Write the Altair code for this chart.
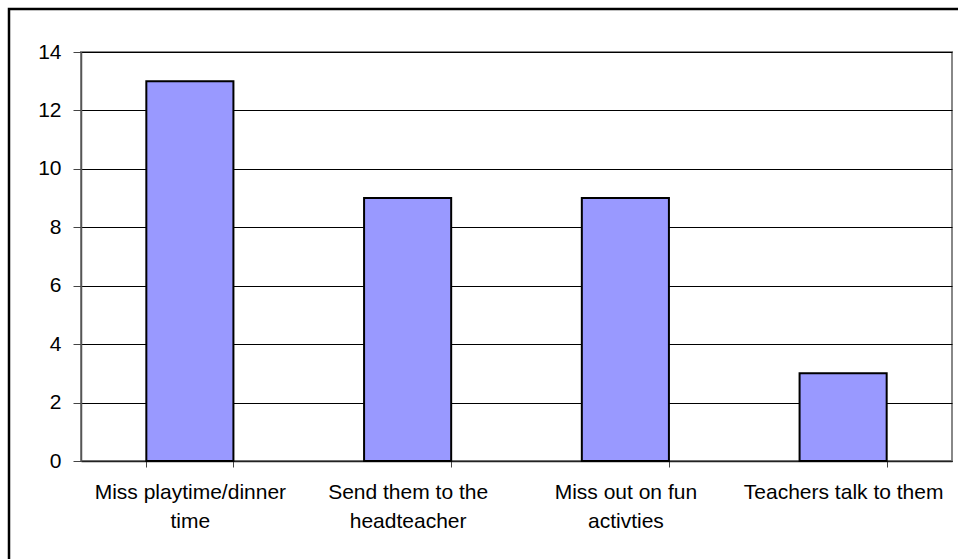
import altair as alt
import pandas as pd

categories = ["Miss playtime/dinner time", "Send them to the headteacher",
              "Miss out on fun activties", "Teachers talk to them"]
values = [13, 9, 9, 3]
label_lines = [["Miss playtime/dinner", "time"], ["Send them to the", "headteacher"],
               ["Miss out on fun", "activties"], ["Teachers talk to them"]]
y_ticks = [0, 2, 4, 6, 8, 10, 12, 14]

df = pd.DataFrame({"cat": categories, "val": values})

expr = "datum.label"
for c, lines in zip(categories, label_lines):
    arr = "[" + ",".join("'" + l + "'" for l in lines) + "]"
    expr = f"datum.label == '{c}' ? {arr} : ({expr})"

FONT = "Liberation Sans"

bars = alt.Chart(df).mark_bar(
    color="#9999FF", stroke="black", strokeWidth=2
).encode(
    x=alt.X("cat:N", sort=categories, title=None,
            scale=alt.Scale(paddingInner=0.6, paddingOuter=0.3),
            axis=alt.Axis(labelAngle=0, labelExpr=expr, tickBand="extent",
                          labelFontSize=21, labelFont=FONT, labelColor="black",
                          labelLineHeight=29, labelPadding=14, tickSize=6,
                          tickColor="#444444", domainColor="#222222",
                          domainWidth=1.5, labelLimit=400)),
    y=alt.Y("val:Q", title=None,
            scale=alt.Scale(domain=[0, 14], nice=False),
            axis=alt.Axis(values=y_ticks, grid=True, gridColor="black",
                          gridWidth=1, labelFontSize=21, labelFont=FONT,
                          labelColor="black", labelPadding=12, tickSize=8,
                          tickColor="#444444", domainColor="#555555",
                          domainWidth=1.5)),
)

border = alt.Chart(pd.DataFrame({"a": [0]})).mark_rect(
    fill=None, stroke="black", strokeWidth=2.5
).encode(
    x=alt.value(-72), x2=alt.value(890), y=alt.value(-43), y2=alt.value(520)
)

chart = alt.layer(bars, border).properties(
    width=871, height=409,
    padding={"left": 81, "top": 52, "right": 6, "bottom": 98},
    autosize=alt.AutoSizeParams(type="none"),
    background="white",
).configure_view(stroke="#888888", strokeWidth=2)

chart.save("out.html", embed_options={"renderer": "svg", "actions": False})
